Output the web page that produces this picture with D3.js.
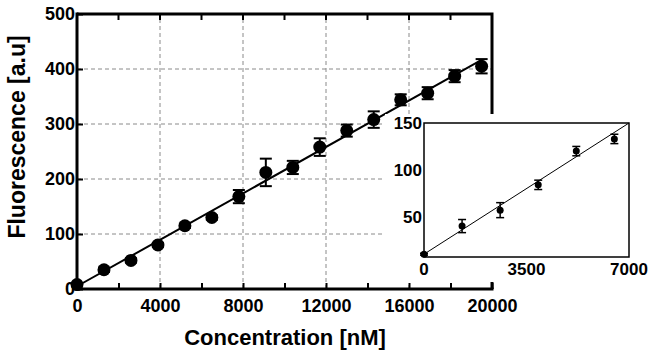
<!DOCTYPE html>
<html>
<head>
<meta charset="utf-8">
<script src="https://cdn.jsdelivr.net/npm/d3@7"></script>
<style>
  body { margin: 0; background: #fff; }
  svg { display: block; font-family: "Liberation Sans", Arial, sans-serif; font-weight: bold; }
</style>
</head>
<body>
<script>
// main data
var conc = [0, 1300, 2600, 3900, 5200, 6500, 7800, 9100, 10400, 11700, 13000, 14300, 15600, 16900, 18200, 19500];
var fluo = [8, 35, 52, 80, 115, 130, 168, 212, 221, 258, 288, 308, 344, 356, 387, 405];
var err  = [3, 4, 4, 4, 4, 4, 12, 25, 12, 16, 11, 15, 10, 11, 11, 13];
var fitSlope = 0.0211;
var fitIntercept = 5;
var xTicks = [0, 4000, 8000, 12000, 16000, 20000];
var xMinor = [2000, 6000, 10000, 14000, 18000];
var yTicks = [0, 100, 200, 300, 400, 500];

// inset data
var insetConc = [0, 1300, 2600, 3900, 5200, 6500];
var insetFluo = [10, 40, 57, 84, 120, 133];
var insetErr  = [1, 7, 8, 5, 5, 5];
var insetSlope = 0.02;
var insetIntercept = 10;
var insetXTicks = [0, 3500, 7000];
var insetYTicks = [50, 100, 150];

var w = 654;
var h = 355;

var svg = d3.select("body")
    .append("svg")
    .attr("width", w)
    .attr("height", h);

var xScale = d3.scaleLinear().domain([0, 20000]).range([77, 492]);
var yScale = d3.scaleLinear().domain([0, 500]).range([289, 14]);

// grid
var grid = svg.append("g").attr("class", "grid");
grid.selectAll("line.gx")
    .data(xTicks.slice(1, -1))
    .enter()
    .append("line")
    .attr("class", "gx")
    .attr("x1", function(d) { return xScale(d); })
    .attr("x2", function(d) { return xScale(d); })
    .attr("y1", yScale(0))
    .attr("y2", yScale(500))
    .attr("stroke", "#8a8a8a")
    .attr("stroke-width", 1)
    .attr("stroke-dasharray", "4,3");
grid.selectAll("line.gy")
    .data(yTicks.slice(1, -1))
    .enter()
    .append("line")
    .attr("class", "gy")
    .attr("x1", xScale(0))
    .attr("x2", xScale(20000))
    .attr("y1", function(d) { return yScale(d); })
    .attr("y2", function(d) { return yScale(d); })
    .attr("stroke", "#8a8a8a")
    .attr("stroke-width", 1)
    .attr("stroke-dasharray", "4,3");

// top and right frame
svg.append("path")
    .attr("d", "M" + xScale(0) + "," + yScale(500) + "H" + xScale(20000) + "V" + yScale(0))
    .attr("fill", "none")
    .attr("stroke", "#000")
    .attr("stroke-width", 3);

svg.selectAll("line.topTick")
    .data(xTicks.concat(xMinor))
    .enter()
    .append("line")
    .attr("class", "topTick")
    .attr("x1", function(d) { return xScale(d); })
    .attr("x2", function(d) { return xScale(d); })
    .attr("y1", yScale(500))
    .attr("y2", yScale(500) + 6)
    .attr("stroke", "#000")
    .attr("stroke-width", 2);

// fit line
svg.append("line")
    .attr("x1", xScale(0))
    .attr("y1", yScale(fitIntercept))
    .attr("x2", xScale(19500))
    .attr("y2", yScale(fitIntercept + fitSlope * 19500))
    .attr("stroke", "#000")
    .attr("stroke-width", 2);

// error bars
var eb = svg.append("g").attr("class", "errbars");
conc.forEach(function(c, i) {
    var x = xScale(c);
    var y1 = yScale(fluo[i] + err[i]);
    var y2 = yScale(fluo[i] - err[i]);
    eb.append("line").attr("x1", x).attr("x2", x).attr("y1", y1).attr("y2", y2)
        .attr("stroke", "#000").attr("stroke-width", 2);
    eb.append("line").attr("x1", x - 6).attr("x2", x + 6).attr("y1", y1).attr("y2", y1)
        .attr("stroke", "#000").attr("stroke-width", 2);
    eb.append("line").attr("x1", x - 6).attr("x2", x + 6).attr("y1", y2).attr("y2", y2)
        .attr("stroke", "#000").attr("stroke-width", 2);
});

svg.append("g").selectAll("circle")
    .data(conc)
    .enter()
    .append("circle")
    .attr("cx", function(d) { return xScale(d); })
    .attr("cy", function(d, i) { return yScale(fluo[i]); })
    .attr("r", 6.5)
    .attr("fill", "#000");

// axes
var xAxis = d3.axisBottom(xScale).tickValues(xTicks.concat(xMinor)).tickSize(-6)
    .tickFormat(function(d) { return xTicks.indexOf(d) >= 0 ? d : ""; });
var yAxis = d3.axisLeft(yScale).tickValues(yTicks).tickSize(-6);

var gx = svg.append("g")
    .attr("class", "x axis")
    .attr("transform", "translate(0," + yScale(0) + ")")
    .call(xAxis);
var gy = svg.append("g")
    .attr("class", "y axis")
    .attr("transform", "translate(" + xScale(0) + ",0)")
    .call(yAxis);

[gx, gy].forEach(function(g) {
    g.select(".domain").attr("stroke-width", 3).attr("d", null);
    g.selectAll(".tick line").attr("stroke-width", 2);
    g.selectAll("text").attr("font-size", 18).attr("font-weight", "bold")
        .attr("font-family", "'Liberation Sans', Arial, sans-serif").attr("fill", "#000");
});
gx.select(".domain").remove();
gy.select(".domain").remove();
gx.selectAll(".tick text").attr("y", 10).attr("dy", "0.71em");
gy.selectAll(".tick text").attr("x", -2);

svg.append("line")
    .attr("x1", xScale(0) - 1.5).attr("x2", xScale(20000) + 1.5)
    .attr("y1", yScale(0)).attr("y2", yScale(0))
    .attr("stroke", "#000").attr("stroke-width", 3);
svg.append("line")
    .attr("x1", xScale(0)).attr("x2", xScale(0))
    .attr("y1", yScale(500) - 1.5).attr("y2", yScale(0) + 1.5)
    .attr("stroke", "#000").attr("stroke-width", 3);

// titles
svg.append("text")
    .attr("x", 285)
    .attr("y", 345)
    .attr("text-anchor", "middle")
    .attr("font-size", 22)
    .text("Concentration [nM]");
svg.append("text")
    .attr("transform", "translate(25,137) rotate(-90)")
    .attr("text-anchor", "middle")
    .attr("font-size", 23)
    .text("Fluorescence [a.u]");

// inset
var inset = svg.append("g").attr("class", "inset");
inset.append("rect")
    .attr("x", 385).attr("y", 114)
    .attr("width", w - 385).attr("height", 168)
    .attr("fill", "#fff");

var ix = d3.scaleLinear().domain([0, 7000]).range([424, 629]);
var iy = d3.scaleLinear().domain([7, 150]).range([257, 123]);

inset.append("rect")
    .attr("x", ix(0)).attr("y", iy(150))
    .attr("width", ix(7000) - ix(0)).attr("height", iy(7) - iy(150))
    .attr("fill", "none")
    .attr("stroke", "#000")
    .attr("stroke-width", 1.5);

inset.append("line")
    .attr("x1", ix(0)).attr("y1", iy(insetIntercept))
    .attr("x2", ix(7000)).attr("y2", iy(insetIntercept + insetSlope * 7000))
    .attr("stroke", "#000")
    .attr("stroke-width", 1);

insetConc.forEach(function(c, i) {
    var x = ix(c);
    var y1 = iy(insetFluo[i] + insetErr[i]);
    var y2 = iy(insetFluo[i] - insetErr[i]);
    inset.append("line").attr("x1", x).attr("x2", x).attr("y1", y1).attr("y2", y2)
        .attr("stroke", "#000").attr("stroke-width", 1.5);
    inset.append("line").attr("x1", x - 4).attr("x2", x + 4).attr("y1", y1).attr("y2", y1)
        .attr("stroke", "#000").attr("stroke-width", 1.5);
    inset.append("line").attr("x1", x - 4).attr("x2", x + 4).attr("y1", y2).attr("y2", y2)
        .attr("stroke", "#000").attr("stroke-width", 1.5);
});
inset.selectAll("circle")
    .data(insetConc)
    .enter()
    .append("circle")
    .attr("cx", function(d) { return ix(d); })
    .attr("cy", function(d, i) { return iy(insetFluo[i]); })
    .attr("r", 3.5)
    .attr("fill", "#000");

inset.selectAll("text.ixl")
    .data(insetXTicks)
    .enter()
    .append("text")
    .attr("class", "ixl")
    .attr("x", function(d) { return ix(d); })
    .attr("y", 275)
    .attr("text-anchor", "middle")
    .attr("font-size", 17)
    .text(function(d) { return d; });
inset.selectAll("text.iyl")
    .data(insetYTicks)
    .enter()
    .append("text")
    .attr("class", "iyl")
    .attr("x", 422)
    .attr("y", function(d) { return iy(d); })
    .attr("dy", "0.35em")
    .attr("text-anchor", "end")
    .attr("font-size", 17)
    .text(function(d) { return d; });
</script>
</body>
</html>
